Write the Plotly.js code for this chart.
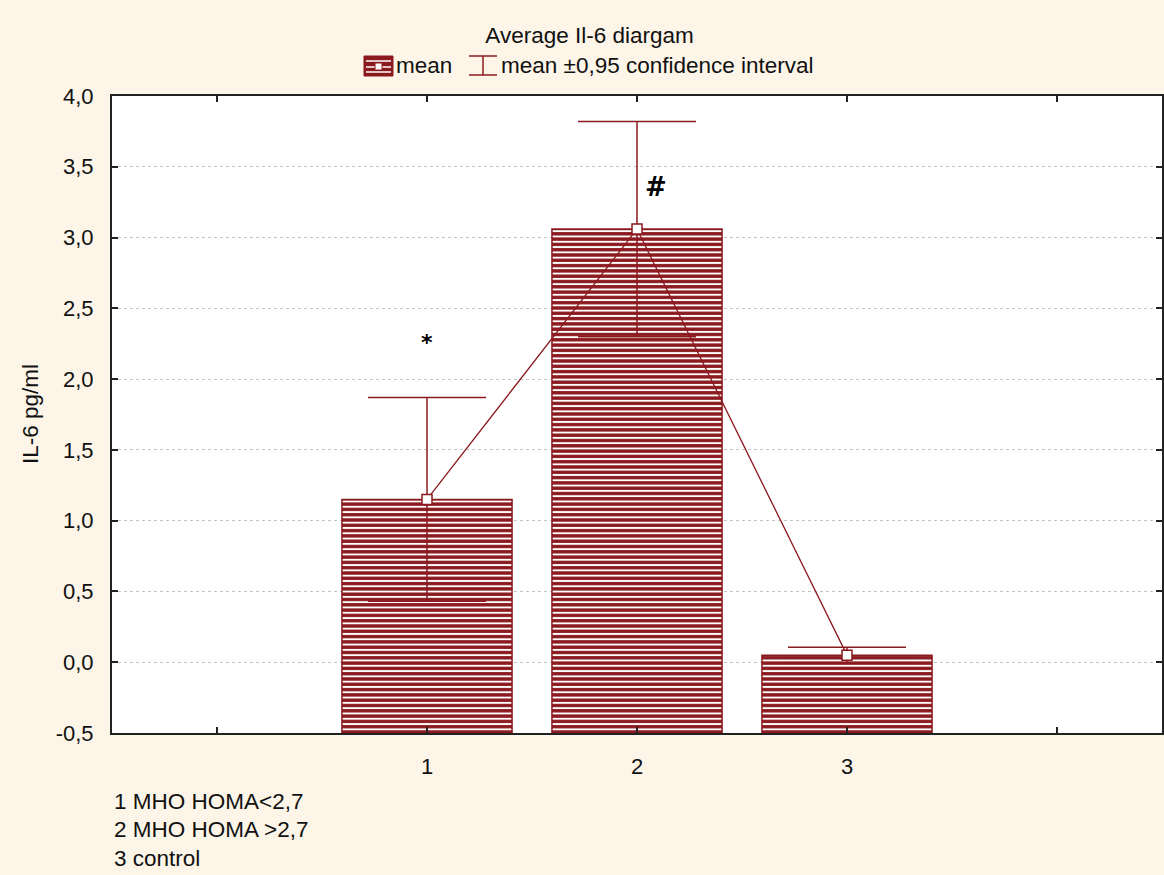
<!DOCTYPE html>
<html>
<head>
<meta charset="utf-8">
<script src="https://cdn.plot.ly/plotly-3.0.1.min.js"></script>
<style>
  html, body { margin: 0; padding: 0; background: #fcf5e8; }
  #chart { width: 1164px; height: 875px; }
</style>
</head>
<body>
<div id="chart"></div>
<script>
// ---- data ----
const categories = [1, 2, 3];
const means = [1.15, 3.06, 0.05];
const ci95 = [0.72, 0.76, 0.055];
const tickVals = [0, 1, 2, 3, 4];
const tickLabels = ["", "1", "2", "3", ""];
const yTickVals = [-0.5, 0, 0.5, 1, 1.5, 2, 2.5, 3, 3.5, 4];
const yTickLabels = ["-0,5", "0,0", "0,5", "1,0", "1,5", "2,0", "2,5", "3,0", "3,5", "4,0"];
const groupNotes = ["1 MHO HOMA<2,7", "2 MHO HOMA >2,7", "3 control"];
const sigMarks = ["*", "#"];
const sigMarkX = [1, 2.09];
const sigMarkY = [2.26, 3.36];
const yBase = -0.5;

// ---- style ----
const RED = "#8b1a1f";
const FONT = "Liberation Sans, Arial, sans-serif";
const W = 1164, H = 875;
const M = {l: 112, r: 2, t: 96, b: 142};
const PW = W - M.l - M.r, PH = H - M.t - M.b;
const fx = px => (px - M.l) / PW;
const fy = py => (H - M.b - py) / PH;

const barTrace = {
  type: "bar",
  x: categories,
  y: means.map(m => m - yBase),
  base: yBase,
  width: 0.81,
  showlegend: false,
  marker: {
    color: RED,
    line: {color: RED, width: 1.5},
    pattern: {shape: "-", fgcolor: "#ffffff", fgopacity: 1, size: 5.3, solidity: 0.36, fillmode: "overlay"}
  },
  hoverinfo: "skip"
};

const meanTrace = {
  type: "scatter",
  mode: "lines+markers",
  x: categories,
  y: means,
  showlegend: false,
  line: {color: RED, width: 1.3},
  marker: {symbol: "square", size: 10, color: "#ffffff", line: {color: RED, width: 1.5}},
  error_y: {type: "data", array: ci95, visible: true, color: RED, thickness: 1.5, width: 59}
};

const annotations = [];
sigMarks.forEach((s, i) => {
  annotations.push({
    x: sigMarkX[i], y: sigMarkY[i], xref: "x", yref: "y", text: s, showarrow: false,
    font: {family: "DejaVu Sans, sans-serif", size: s === "#" ? 26 : 22, color: "#000", weight: "bold"}
  });
});
groupNotes.forEach((t, i) => {
  annotations.push({
    x: fx(112), y: fy(801 + i * 28.5), xref: "paper", yref: "paper", xanchor: "left", yanchor: "middle",
    text: t, showarrow: false, font: {family: FONT, size: 22.5, color: "#111"}
  });
});
// y-axis title
annotations.push({
  x: fx(30), y: fy(414), xref: "paper", yref: "paper", xanchor: "center", yanchor: "middle",
  text: "IL-6 pg/ml", textangle: -90, showarrow: false, font: {family: FONT, size: 22.5, color: "#111"}
});
// legend text
annotations.push({
  x: fx(394), y: fy(66), xref: "paper", yref: "paper", xanchor: "left", yanchor: "middle",
  text: "mean", showarrow: false, font: {family: FONT, size: 22.5, color: "#111"}
});
annotations.push({
  x: fx(499), y: fy(66), xref: "paper", yref: "paper", xanchor: "left", yanchor: "middle",
  text: "mean ±0,95 confidence interval", showarrow: false, font: {family: FONT, size: 22.5, color: "#111"}
});

const shapes = [
  // legend bar icon
  {type: "rect", xref: "paper", yref: "paper", x0: fx(364), x1: fx(393), y0: fy(56), y1: fy(76),
   fillcolor: RED, line: {color: RED, width: 1}},
  {type: "line", xref: "paper", yref: "paper", x0: fx(366), x1: fx(391), y0: fy(61), y1: fy(61), line: {color: "#fff", width: 1.5}},
  {type: "line", xref: "paper", yref: "paper", x0: fx(366), x1: fx(391), y0: fy(67), y1: fy(67), line: {color: "#fff", width: 1.5}},
  {type: "line", xref: "paper", yref: "paper", x0: fx(366), x1: fx(391), y0: fy(72), y1: fy(72), line: {color: "#fff", width: 1.5}},
  {type: "rect", xref: "paper", yref: "paper", x0: fx(375), x1: fx(382), y0: fy(63), y1: fy(70),
   fillcolor: "#fff", line: {color: RED, width: 1}},
  // legend error-bar icon
  {type: "line", xref: "paper", yref: "paper", x0: fx(469), x1: fx(497), y0: fy(56), y1: fy(56), line: {color: RED, width: 1.5}},
  {type: "line", xref: "paper", yref: "paper", x0: fx(469), x1: fx(497), y0: fy(75), y1: fy(75), line: {color: RED, width: 1.5}},
  {type: "line", xref: "paper", yref: "paper", x0: fx(483), x1: fx(483), y0: fy(56), y1: fy(75), line: {color: RED, width: 1.5}}
];

const layout = {
  width: W, height: H,
  margin: M,
  paper_bgcolor: "#fcf5e8",
  plot_bgcolor: "#ffffff",
  separators: ", ",
  showlegend: false,
  title: {text: "Average Il-6 diargam", x: 0.5065, xanchor: "center", y: 1 - 35 / H, yanchor: "middle",
          font: {family: FONT, size: 22.5, color: "#111"}},
  font: {family: FONT, size: 22, color: "#111"},
  xaxis: {
    range: [-0.5, 4.5], tickvals: tickVals, ticktext: tickLabels,
    ticks: "inside", ticklen: 6, tickwidth: 2, tickcolor: "#222",
    showline: true, linecolor: "#222", linewidth: 2, mirror: "ticks",
    showgrid: false, zeroline: false, ticklabelstandoff: 13,
    tickfont: {family: FONT, size: 22, color: "#111"}, fixedrange: true
  },
  yaxis: {
    range: [-0.5, 4.0], tickvals: yTickVals, ticktext: yTickLabels,
    ticks: "inside", ticklen: 6, tickwidth: 2, tickcolor: "#222",
    showline: true, linecolor: "#222", linewidth: 2, mirror: "ticks",
    showgrid: true, gridcolor: "#c4c4c4", griddash: "dot", gridwidth: 1,
    zeroline: false, ticklabelstandoff: 12,
    tickfont: {family: FONT, size: 22, color: "#111"}, fixedrange: true
  },
  annotations: annotations,
  shapes: shapes
};

Plotly.newPlot("chart", [barTrace, meanTrace], layout, {displayModeBar: false, staticPlot: true});
</script>
</body>
</html>
